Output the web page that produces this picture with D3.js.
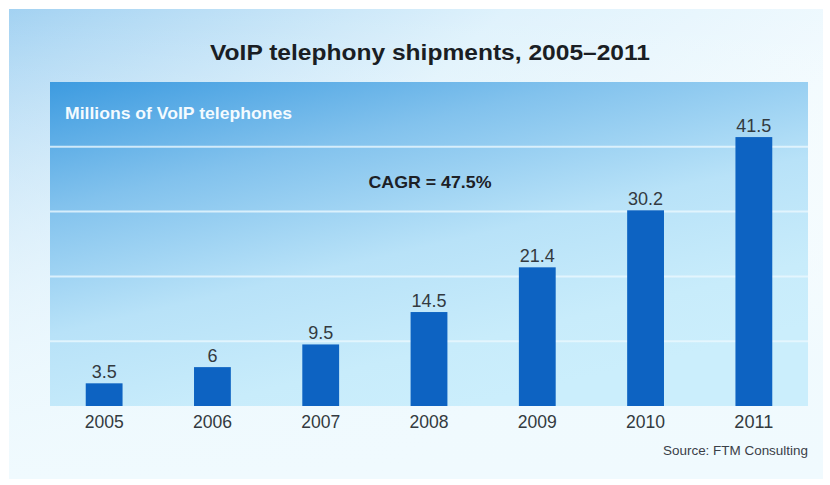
<!DOCTYPE html>
<html>
<head>
<meta charset="utf-8">
<script src="https://cdn.jsdelivr.net/npm/d3@7"></script>
<style>
  html, body { margin: 0; padding: 0; background: #ffffff; }
  svg { display: block; }
</style>
</head>
<body>
<div id="chart"></div>
<script>
const years = ["2005", "2006", "2007", "2008", "2009", "2010", "2011"];
const shipments = [3.5, 6, 9.5, 14.5, 21.4, 30.2, 41.5];
const valueLabels = ["3.5", "6", "9.5", "14.5", "21.4", "30.2", "41.5"];
const gridValues = [10, 20, 30, 40];
const titleText = "VoIP telephony shipments, 2005\u20132011";
const unitText = "Millions of VoIP telephones";
const cagrText = "CAGR = 47.5%";
const sourceText = "Source: FTM Consulting";

const W = 830, H = 485;
const plot = { left: 50, right: 808, top: 82, bottom: 406 };

const svg = d3.select("#chart").append("svg")
  .attr("width", W).attr("height", H);

const defs = svg.append("defs");
const outerGrad = defs.append("linearGradient").attr("id", "outerGrad")
  .attr("x1", 0).attr("y1", 0).attr("x2", 1).attr("y2", 0.6);
outerGrad.append("stop").attr("offset", 0).attr("stop-color", "#a3d2f2");
outerGrad.append("stop").attr("offset", 0.45).attr("stop-color", "#dff2fc");
outerGrad.append("stop").attr("offset", 0.8).attr("stop-color", "#f1fafe");
outerGrad.append("stop").attr("offset", 1).attr("stop-color", "#f4fbfe");

const outerV = defs.append("linearGradient").attr("id", "outerV")
  .attr("x1", 0).attr("y1", 0).attr("x2", 0).attr("y2", 1);
outerV.append("stop").attr("offset", 0).attr("stop-color", "#ffffff").attr("stop-opacity", 0);
outerV.append("stop").attr("offset", 0.75).attr("stop-color", "#f0fafe").attr("stop-opacity", 0.85);
outerV.append("stop").attr("offset", 1).attr("stop-color", "#f0fafe").attr("stop-opacity", 1);

const plotGrad = defs.append("linearGradient").attr("id", "plotGrad")
  .attr("x1", 0).attr("y1", 0).attr("x2", 0.55).attr("y2", 1);
plotGrad.append("stop").attr("offset", 0).attr("stop-color", "#3d9be0");
plotGrad.append("stop").attr("offset", 0.3).attr("stop-color", "#82c2ed");
plotGrad.append("stop").attr("offset", 0.6).attr("stop-color", "#b8e2f8");
plotGrad.append("stop").attr("offset", 0.85).attr("stop-color", "#c8ecfb");
plotGrad.append("stop").attr("offset", 1).attr("stop-color", "#cbeefc");

// outer panel
svg.append("rect").attr("x", 9).attr("y", 9).attr("width", 814).attr("height", 470)
  .attr("fill", "url(#outerGrad)");
svg.append("rect").attr("x", 9).attr("y", 9).attr("width", 814).attr("height", 470)
  .attr("fill", "url(#outerV)");

// plot area
svg.append("rect")
  .attr("x", plot.left).attr("y", plot.top)
  .attr("width", plot.right - plot.left).attr("height", plot.bottom - plot.top)
  .attr("fill", "url(#plotGrad)");

const x = d3.scaleBand().domain(years).range([plot.left, plot.right])
  .paddingInner(0.66).paddingOuter(0.33);
const y = d3.scaleLinear().domain([0, 50]).range([plot.bottom, plot.top]);

// gridlines
svg.append("g").selectAll("line").data(gridValues).join("line")
  .attr("x1", plot.left).attr("x2", plot.right)
  .attr("y1", d => y(d)).attr("y2", d => y(d))
  .attr("stroke", "#eaf7fe").attr("stroke-opacity", 0.8).attr("stroke-width", 2);

// bars
svg.append("g").selectAll("rect").data(years).join("rect")
  .attr("x", d => x(d))
  .attr("y", (d, i) => y(shipments[i]))
  .attr("width", x.bandwidth())
  .attr("height", (d, i) => plot.bottom - y(shipments[i]))
  .attr("fill", "#0d63c2");

const font = "'Liberation Sans', Arial, sans-serif";

// value labels
svg.append("g").selectAll("text").data(years).join("text")
  .attr("x", d => x(d) + x.bandwidth() / 2)
  .attr("y", (d, i) => y(shipments[i]) - 5)
  .attr("text-anchor", "middle")
  .attr("font-family", font)
  .attr("font-size", 18)
  .attr("fill", "#333a40")
  .text((d, i) => valueLabels[i]);

// x axis labels
const xAxis = d3.axisBottom(x).tickSize(0).tickPadding(0);
const gx = svg.append("g").attr("transform", `translate(0,${plot.bottom})`).call(xAxis);
gx.select(".domain").remove();
gx.selectAll("text")
  .attr("dy", null)
  .attr("y", 22)
  .attr("font-family", font)
  .attr("font-size", 19)
  .attr("textLength", 39).attr("lengthAdjust", "spacingAndGlyphs")
  .attr("fill", "#333a40");

// title
svg.append("text")
  .attr("x", 430).attr("y", 60)
  .attr("text-anchor", "middle")
  .attr("font-family", font)
  .attr("font-weight", "bold")
  .attr("font-size", 22)
  .attr("fill", "#1a1e24")
  .attr("textLength", 440).attr("lengthAdjust", "spacingAndGlyphs")
  .text(titleText);

// unit label
svg.append("text")
  .attr("x", 65).attr("y", 119)
  .attr("font-family", font)
  .attr("font-weight", "bold")
  .attr("font-size", 17)
  .attr("fill", "#f4fbff")
  .attr("textLength", 227).attr("lengthAdjust", "spacingAndGlyphs")
  .text(unitText);

// CAGR
svg.append("text")
  .attr("x", 430).attr("y", 188)
  .attr("text-anchor", "middle")
  .attr("font-family", font)
  .attr("font-weight", "bold")
  .attr("font-size", 17)
  .attr("fill", "#1c2026")
  .attr("textLength", 123).attr("lengthAdjust", "spacingAndGlyphs")
  .text(cagrText);

// source
svg.append("text")
  .attr("x", 808).attr("y", 455)
  .attr("text-anchor", "end")
  .attr("font-family", font)
  .attr("font-size", 13.5)
  .attr("fill", "#3a4048")
  .attr("textLength", 145).attr("lengthAdjust", "spacingAndGlyphs")
  .text(sourceText);
</script>
</body>
</html>
